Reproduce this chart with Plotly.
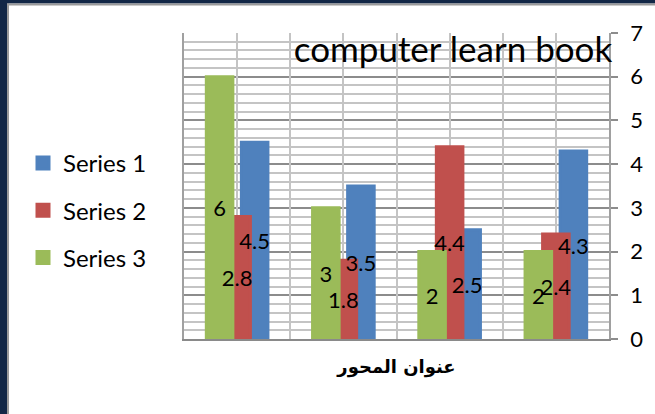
import plotly.graph_objects as go

# Chart data
categories = ["Category 1", "Category 2", "Category 3", "Category 4"]
series_names = ["Series 1", "Series 2", "Series 3"]
series_1 = [4.3, 2.5, 3.5, 4.5]
series_2 = [2.4, 4.4, 1.8, 2.8]
series_3 = [2, 2, 3, 6]
y_ticks = [0, 1, 2, 3, 4, 5, 6, 7]

colors = ["#4F81BD", "#C0504D", "#9BBB59"]
values = [series_1, series_2, series_3]

# figure geometry (pixels)
W, H = 655, 414
L, R, T, B = 184, 46, 33, 75
PW, PH = W - L - R, H - T - B


def px_x(p):
    return (p - L) / PW


def px_y(p):
    return (H - B - p) / PH


bar_w = 0.25
centers = [-0.165, 0.0, 0.165]  # offsets in category units (axis reversed)

fig = go.Figure()

# coloured bars
for i, (name, vals, col) in enumerate(zip(series_names, values, colors)):
    fig.add_trace(go.Bar(
        x=categories,
        y=vals,
        name=name,
        legendgroup=name,
        width=bar_w,
        offset=centers[i] - bar_w / 2,
        marker=dict(color=col, line=dict(color=col, width=3)),
        hoverinfo="x+y+name",
    ))

# value labels, placed on transparent copies so they sit above every bar
for i, (name, vals) in enumerate(zip(series_names, values)):
    fig.add_trace(go.Bar(
        x=categories,
        y=vals,
        name=name,
        legendgroup=name,
        showlegend=False,
        width=bar_w,
        offset=centers[i] - bar_w / 2,
        marker=dict(color="rgba(0,0,0,0)", line=dict(width=0)),
        text=[f"{v:g}" for v in vals],
        textposition="inside",
        insidetextanchor="middle",
        textangle=0,
        constraintext="none",
        insidetextfont=dict(family="Lato", size=22, color="black"),
        hoverinfo="skip",
        cliponaxis=False,
    ))

# carrier for the half-category vertical grid
fig.add_trace(go.Scatter(
    x=[-0.5, 3.5], y=[0, 0], xaxis="x2", yaxis="y", mode="markers",
    marker=dict(opacity=0), showlegend=False, hoverinfo="skip",
))

shapes = [
    # dark frame on left and top edges
    dict(type="rect", xref="paper", yref="paper", x0=px_x(0), x1=px_x(7),
         y0=px_y(H), y1=px_y(0), fillcolor="#122746", line_width=0, layer="below"),
    dict(type="rect", xref="paper", yref="paper", x0=px_x(7), x1=px_x(9),
         y0=px_y(H), y1=px_y(3.5), fillcolor="#9a9a9a", line_width=0, layer="below"),
    dict(type="rect", xref="paper", yref="paper", x0=px_x(0), x1=px_x(W),
         y0=px_y(3.5), y1=px_y(0), fillcolor="#122746", line_width=0, layer="below"),
    dict(type="rect", xref="paper", yref="paper", x0=px_x(7), x1=px_x(W),
         y0=px_y(5.5), y1=px_y(3.5), fillcolor="#9a9a9a", line_width=0, layer="below"),
]

fig.update_layout(
    width=W, height=H,
    margin=dict(l=L, r=R, t=T, b=B, pad=0, autoexpand=False),
    paper_bgcolor="white",
    plot_bgcolor="white",
    barmode="overlay",
    font=dict(family="Lato", size=21, color="black"),
    title=dict(text="computer learn book", font=dict(family="Lato", size=35, color="black"),
               xref="paper", yref="paper", x=px_x(453), y=px_y(50),
               xanchor="center", yanchor="middle", automargin=False),
    showlegend=True,
    legend=dict(x=px_x(23), y=px_y(141), xanchor="left", yanchor="top",
                traceorder="grouped", tracegroupgap=13,
                font=dict(family="Lato", size=24, color="black"),
                bgcolor="rgba(0,0,0,0)"),
    xaxis=dict(
        type="category", categoryorder="array", categoryarray=categories,
        range=[3.5, -0.5], showgrid=False, showticklabels=False, ticks="",
        showline=True, linecolor="#8a8a8a", linewidth=1.5, zeroline=False,
        automargin=False,
        title=dict(text="<b>عنوان المحور</b>", font=dict(family="DejaVu Sans", size=18, color="black"),
                   standoff=21),
    ),
    xaxis2=dict(
        overlaying="x", anchor="y", side="bottom", type="linear",
        range=[3.5, -0.5], tick0=-0.5, dtick=0.5, showgrid=True,
        gridcolor="#c4c4c4", gridwidth=1.5, showticklabels=False, ticks="",
        zeroline=False, showline=False, automargin=False,
    ),
    yaxis=dict(
        side="right", range=[0, 7], tickvals=y_ticks, showgrid=True,
        gridcolor="#8c8c8c", gridwidth=1.5, zeroline=False, automargin=False,
        minor=dict(dtick=0.2, tick0=0, showgrid=True, gridcolor="#c4c4c4", gridwidth=1.5, ticks=""),
        ticks="outside", ticklen=7, tickcolor="#8c8c8c", tickwidth=1.5,
        showline=True, linecolor="#a0a0a0", linewidth=1.5, mirror=True,
        tickfont=dict(family="Lato", size=22, color="black"),
        ticklabelstandoff=8,
    ),
    shapes=shapes,
)

fig.write_html("out.html")
